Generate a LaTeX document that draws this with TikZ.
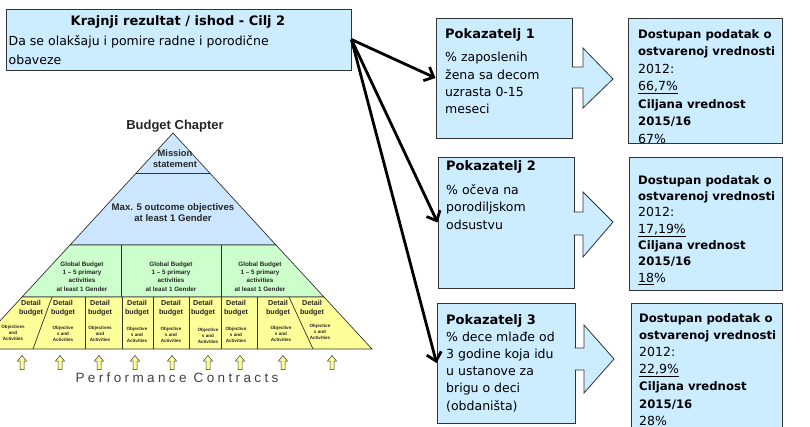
\documentclass[tikz,border=0pt]{standalone}
\usepackage{fontspec}
\setmainfont{DejaVu Sans}
\newfontfamily\arialf{Liberation Sans}
\newfontfamily\spacedf[LetterSpace=25]{Liberation Sans}
\usetikzlibrary{arrows.meta}
\definecolor{boxblue}{HTML}{CCECFF}
\definecolor{pyrblue}{HTML}{CCE6FF}
\definecolor{pyrgreen}{HTML}{CCFFCC}
\definecolor{pyryellow}{HTML}{FFFF99}
\definecolor{edgegray}{HTML}{333333}
\definecolor{pctext}{HTML}{404040}
\newcommand\vbold[1]{{\fontsize{11.7}{17}\selectfont\bfseries #1}}
\begin{document}
\begin{tikzpicture}[x=1pt,y=-1pt,
  bluebox/.style={draw=edgegray, fill=boxblue, line width=0.9pt, inner sep=0pt},
  txt/.style={inner sep=0pt, anchor=north west, align=left},
  bigarrow/.style={line width=2.8pt, -{Straight Barb[length=8pt,width=15pt]}},
  blockarrow/.style={draw=edgegray, fill=boxblue, line width=0.8pt, line join=miter},
  pyr/.style={draw=edgegray, line width=0.7pt},
  pyrtxt/.style={inner sep=0pt, align=center, text=black!85},
  uparrow/.style={draw=edgegray, fill=pyryellow, line width=0.5pt},
]
\useasboundingbox (0,0) rectangle (810,426);

% ---------- goal box ----------
\node[bluebox, minimum width=345pt, minimum height=61pt] (goal) at (178.5,39.5) {};
\node[inner sep=0pt, font=\fontsize{13}{15}\selectfont\bfseries] (gtitle) at (178,22) {Krajnji rezultat / ishod - Cilj 2};
\node[txt, font=\fontsize{12.5}{19}\selectfont] (gtext) at (8.5,35) {Da se olakšaju i pomire radne i porodične\\obaveze};

% ---------- indicator boxes ----------
\node[bluebox, minimum width=136pt, minimum height=120pt] (p1) at (504,78) {};
\node[bluebox, minimum width=136pt, minimum height=131pt] (p2) at (506,222.5) {};
\node[bluebox, minimum width=138pt, minimum height=120pt] (p3) at (506,363) {};

\node[txt, font=\fontsize{13}{17}\selectfont\bfseries] (p1t) at (445,28) {Pokazatelj 1};
\node[txt, font=\fontsize{12.5}{17.4}\selectfont] (p1b) at (445,52) {\% zaposlenih\\žena sa decom\\uzrasta 0-15\\meseci};
\node[txt, font=\fontsize{13}{17}\selectfont\bfseries] (p2t) at (446,160) {Pokazatelj 2};
\node[txt, font=\fontsize{12.5}{17.4}\selectfont] (p2b) at (446,184) {\% očeva na\\porodiljskom\\odsustvu};
\node[txt, font=\fontsize{12.5}{17.2}\selectfont] (p3t) at (446,314) {\textbf{\fontsize{13}{17.2}\selectfont Pokazatelj 3}\\\% dece mlađe od\\3 godine koja idu\\u ustanove za\\brigu o deci\\(obdaništa)};

% ---------- value boxes ----------
\node[bluebox, minimum width=154pt, minimum height=125pt] (v1) at (705,80.5) {};
\node[bluebox, minimum width=153pt, minimum height=133pt] (v2) at (705.5,223.5) {};
\node[bluebox, minimum width=151pt, minimum height=130pt] (v3) at (706.5,368) {};

\begin{scope}
\clip (628,18) rectangle (782,142.6);
\node[txt, font=\fontsize{12.5}{17.5}\selectfont] (v1t) at (638,29) {\vbold{Dostupan podatak o}\\\vbold{ostvarenoj vrednosti}\\2012:\\\underline{66,7\%}\\\vbold{Ciljana vrednost}\\\vbold{2015/16}\\\underline{67\%}};
\end{scope}
\node[txt, font=\fontsize{12.5}{16.35}\selectfont] (v2t) at (638,175) {\vbold{Dostupan podatak o}\\\vbold{ostvarenoj vrednosti}\\2012:\\\underline{17,19\%}\\\vbold{Ciljana vrednost}\\\vbold{2015/16}\\\underline{18}\%};
\node[txt, font=\fontsize{12.5}{17.2}\selectfont] (v3t) at (639,313) {\vbold{Dostupan podatak o}\\\vbold{ostvarenoj vrednosti}\\2012:\\\underline{22,9\%}\\\vbold{Ciljana vrednost}\\\vbold{2015/16}\\28\%};

% ---------- block arrows ----------
\fill[boxblue] (571,67) -- (583,67) -- (583,48) -- (613,79) -- (583,108) -- (583,88) -- (571,88) -- cycle;
\draw[blockarrow, fill=none] (571.6,67) -- (583,67) -- (583,48) -- (613,79) -- (583,108) -- (583,88) -- (571.6,88);
\fill[boxblue] (573,212) -- (583,212) -- (583,192) -- (613,222) -- (583,257) -- (583,235) -- (573,235) -- cycle;
\draw[blockarrow, fill=none] (573.6,212) -- (583,212) -- (583,192) -- (613,222) -- (583,257) -- (583,235) -- (573.6,235);
\fill[boxblue] (574,348) -- (584,348) -- (584,325) -- (614,359) -- (584,393) -- (584,370) -- (574,370) -- cycle;
\draw[blockarrow, fill=none] (574.6,348) -- (584,348) -- (584,325) -- (614,359) -- (584,393) -- (584,370) -- (574.6,370);

% ---------- big arrows ----------
\draw[bigarrow] (goal.east) -- (p1.west);
\draw[bigarrow] (goal.east) -- (p2.west);
\draw[bigarrow] (goal.east) -- (p3.west);

% ---------- pyramid ----------
\node[inner sep=0pt, font=\arialf\bfseries\fontsize{13}{15}\selectfont, text=black!85] (bc) at (175,126) {Budget Chapter};
\begin{scope}
\clip (0,100) rectangle (420,400);
\filldraw[pyr, fill=pyrblue] (173,133) -- (70,245) -- (276,245) -- cycle;
\draw[pyr] (136.2,173) -- (209.8,173);
\filldraw[pyr, fill=pyrgreen] (70,245) -- (276,245) -- (324,297) -- (22,297) -- cycle;
\draw[pyr] (121,245) -- (121,297);
\draw[pyr] (221,245) -- (221,297);
\filldraw[pyr, fill=pyryellow] (22,297) -- (324,297) -- (372,349) -- (-26,349) -- cycle;
\draw[pyr] (52,297) -- (33,349);
\foreach \xx in {85,122,153,189,221,257} \draw[pyr] (\xx,297) -- (\xx,349);
\draw[pyr] (289,297) -- (313,349);
\end{scope}

\node[pyrtxt, font=\arialf\bfseries\fontsize{9.3}{11}\selectfont] (ms) at (175,158.5) {Mission\\statement};
\node[pyrtxt, font=\arialf\bfseries\fontsize{9.6}{11}\selectfont] (mx) at (173,212.5) {Max. 5 outcome objectives\\at least 1 Gender};
\foreach \gx/\nm in {82/g1,171/g2,260/g3}
  \node[pyrtxt, font=\arialf\bfseries\fontsize{6.3}{8.3}\selectfont] (\nm) at (\gx,276.5) {Global Budget\\1 – 5 primary\\activities\\at least 1 Gender};
\foreach \dx/\nm in {31/d1,63/d2,100/d3,137/d4,171/d5,203/d6,236/d7,278/d8,312/d9}
  \node[pyrtxt, font=\arialf\bfseries\fontsize{7.2}{9}\selectfont] (\nm) at (\dx,308.5) {Detail\\budget};
\foreach \ox/\oy/\nm in {13/333/o1,100/334/o3}
  \node[pyrtxt, font=\arialf\bfseries\fontsize{4.6}{6}\selectfont] (\nm) at (\ox,\oy) {Objectives\\and\\Activities};
\foreach \ox/\oy/\nm in {63/334/o2,137/335/o4,171/335/o5,208/336/o6,236/335/o7,281/334/o8,320/332/o9}
  \node[pyrtxt, font=\arialf\bfseries\fontsize{4.6}{6}\selectfont] (\nm) at (\ox,\oy) {Objective\\s and\\Activities};

\foreach \ux in {22,60,99,135,172,208,240,283,332}
  \draw[uparrow] (\ux-2,369.5) -- (\ux-2,361) -- (\ux-4.5,361) -- (\ux,355.5) -- (\ux+4.5,361) -- (\ux+2,361) -- (\ux+2,369.5) -- cycle;
\node[inner sep=0pt, font=\spacedf\fontsize{13.5}{15}\selectfont, text=pctext] (pc) at (177,378) {Performance Contracts};
\end{tikzpicture}
\end{document}
